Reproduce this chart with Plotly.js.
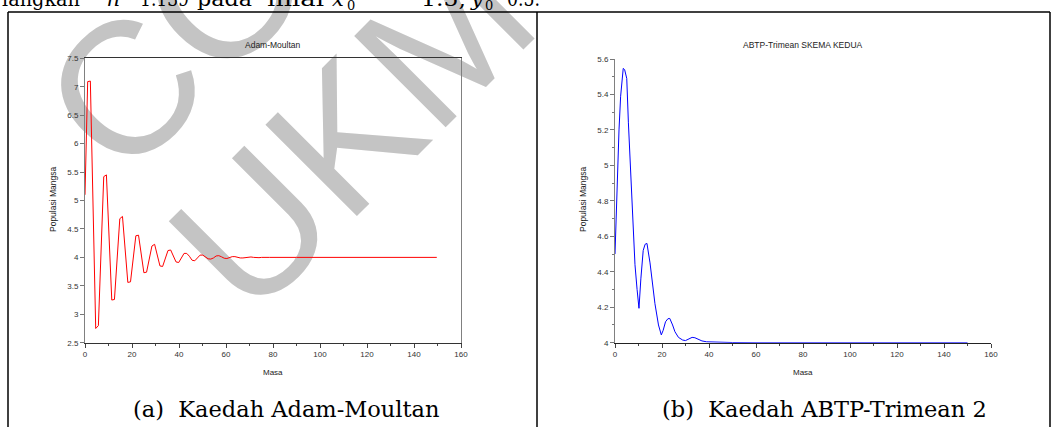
<!DOCTYPE html>
<html>
<head>
<meta charset="utf-8">
<script src="https://cdn.plot.ly/plotly-3.0.1.min.js"></script>
<style>
  html, body { margin: 0; padding: 0; background: #ffffff; width: 1057px; height: 427px; overflow: hidden; }
  #wm { position: absolute; left: 0; top: 0; z-index: 0; }
  #toptext { position: absolute; left: 0; top: 0; z-index: 1; }
  #plot { position: absolute; left: 0; top: 0; width: 1057px; height: 427px; z-index: 2; }
</style>
</head>
<body>
<svg id="wm" width="1057" height="427" xmlns="http://www.w3.org/2000/svg">
  <g font-family="Liberation Sans, Arial, sans-serif" font-size="188" fill="#c4c4c4">
    <text x="123" y="184" transform="rotate(-45 123 184)">COPY</text>
    <text x="250" y="323" transform="rotate(-45 250 323)">UKM</text>
  </g>
</svg>
<svg id="toptext" width="1057" height="427" xmlns="http://www.w3.org/2000/svg">
  <g font-family="DejaVu Serif, serif" font-size="21" fill="#000">
    <text x="2" y="6" textLength="78" lengthAdjust="spacingAndGlyphs">langkah</text>
    <text x="107" y="6" font-style="italic">h</text>
    <text x="121" y="1" font-size="15">=</text>
    <text x="140" y="6" textLength="49" lengthAdjust="spacingAndGlyphs">1.139</text>
    <text x="197" y="6" textLength="55" lengthAdjust="spacingAndGlyphs">pada</text>
    <text x="267" y="6" textLength="57" lengthAdjust="spacingAndGlyphs">nilai</text>
    <text x="332" y="6" font-style="italic">x</text>
    <text x="347" y="10" font-size="13">0</text>
    <text x="390" y="1" font-size="15">=</text>
    <text x="421" y="6" textLength="45" lengthAdjust="spacingAndGlyphs">1.5,</text>
    <text x="471" y="6" font-style="italic">y</text>
    <text x="485" y="10" font-size="13">0</text>
    <text x="494" y="1" font-size="12">=</text>
    <text x="507" y="6" textLength="33" lengthAdjust="spacingAndGlyphs">0.5.</text>
  </g>
</svg>
<div id="plot"></div>
<script>
// ---- data ----
const masaAdam = [0, 1.139, 2.278, 3.417, 4.556, 5.695, 6.834, 7.973, 9.112, 10.25,
  11.39, 12.53, 13.67, 14.81, 15.95, 17.09, 18.22, 19.36, 20.5, 21.64,
  22.78, 23.92, 25.06, 26.2, 27.34, 28.48, 29.62, 30.75, 31.89, 33.03,
  34.17, 35.31, 36.45, 37.59, 38.73, 39.87, 41.01, 42.15, 43.29, 44.42,
  45.56, 46.7, 47.84, 48.98, 50.12, 51.26, 52.4, 53.54, 54.67, 55.81,
  56.95, 58.09, 59.23, 60.37, 61.51, 62.65, 63.79, 64.93, 66.07, 67.2,
  68.34, 69.48, 70.62, 71.76, 72.9, 74.04, 75.18, 76.32, 77.45, 78.59,
  90, 110, 130, 149.7];
const mangsaAdam = [5.1, 7.09, 7.1, 5.0, 2.75, 2.8, 3.95, 5.42, 5.45, 4.35,
  3.25, 3.26, 4.0, 4.68, 4.72, 4.15, 3.56, 3.57, 3.95, 4.38,
  4.39, 4.05, 3.73, 3.74, 3.95, 4.2, 4.23, 4.05, 3.85, 3.84,
  3.97, 4.12, 4.13, 4.03, 3.92, 3.91, 3.99, 4.07, 4.07, 4.02,
  3.95, 3.94, 3.99, 4.04, 4.04, 4.01, 3.975, 3.97, 3.99, 4.025,
  4.03, 4.01, 3.985, 3.98, 3.995, 4.013, 4.013, 4.0, 3.99, 3.99,
  4.0, 4.007, 4.007, 4.0, 3.995, 3.995, 4.0, 4.004, 4.004, 4.0,
  4.0, 4.0, 4.0, 4.0];

const masaTrimean = [0, 1.0, 1.7, 2.4, 3.0, 3.5, 4.1, 5.0, 5.7, 6.7,
  7.5, 8.5, 9.4, 10.2, 11.0, 12.0, 12.8, 13.6, 14.9, 16.0,
  17.0, 18.5, 19.7, 20.5, 21.5, 22.5, 23.3, 24.5, 25.5, 27.0,
  28.8, 30.0, 31.5, 32.8, 34.0, 35.5, 37.0, 39.0, 42.0, 46.0,
  50.0, 60.0, 80.0, 100.0, 120.0, 150.0];
const mangsaTrimean = [4.5, 4.99, 5.2, 5.39, 5.5, 5.547, 5.54, 5.49, 5.24, 4.96,
  4.70, 4.44, 4.30, 4.194, 4.36, 4.52, 4.555, 4.56, 4.45, 4.33,
  4.22, 4.1, 4.044, 4.07, 4.118, 4.135, 4.137, 4.1, 4.062, 4.03,
  4.015, 4.012, 4.022, 4.03, 4.028, 4.02, 4.01, 4.005, 4.003, 4.002,
  4.001, 4.0, 4.0, 4.0, 4.0, 4.0];

const xTickVals = [0, 20, 40, 60, 80, 100, 120, 140, 160];
const xTickText = ['0', '20', '40', '60', '80', '100', '120', '140', '160'];
const yTickValsAdam = [2.5, 3, 3.5, 4, 4.5, 5, 5.5, 6, 6.5, 7, 7.5];
const yTickTextAdam = ['2.5', '3', '3.5', '4', '4.5', '5', '5.5', '6', '6.5', '7', '7.5'];
const yTickValsTrimean = [4, 4.2, 4.4, 4.6, 4.8, 5, 5.2, 5.4, 5.6];
const yTickTextTrimean = ['4', '4.2', '4.4', '4.6', '4.8', '5', '5.2', '5.4', '5.6'];

const chartTitles = ['Adam-Moultan', 'ABTP-Trimean SKEMA KEDUA'];
const xTitle = 'Masa';
const yTitle = 'Populasi Mangsa';
const captions = ['(a)\u00a0\u00a0Kaedah Adam-Moultan', '(b)\u00a0\u00a0Kaedah ABTP-Trimean 2'];

// ---- layout helpers (pixel -> paper) ----
const W = 1057, H = 427;
const px = v => v / W;
const py = v => 1 - v / H;

const sans = 'Liberation Sans, Arial, sans-serif';
const tickFont = { family: sans, size: 8, color: '#333' };

const traces = [
  { x: masaAdam, y: mangsaAdam, xaxis: 'x', yaxis: 'y', type: 'scatter', mode: 'lines',
    line: { color: '#ff0000', width: 1 }, hoverinfo: 'skip' },
  { x: masaTrimean, y: mangsaTrimean, xaxis: 'x2', yaxis: 'y2', type: 'scatter', mode: 'lines',
    line: { color: '#0000ff', width: 1 }, hoverinfo: 'skip' }
];

function xAxis(domain, anchor, mirror, lineColor) {
  return {
    domain: domain, anchor: anchor, range: [0, 160], autorange: false,
    showgrid: false, zeroline: false, showline: true, linecolor: lineColor, linewidth: 1,
    mirror: mirror, layer: 'below traces',
    tickmode: 'array', tickvals: xTickVals, ticktext: xTickText,
    ticks: 'outside', ticklen: 4, tickcolor: '#444', tickwidth: 1, tickfont: tickFont,
    minor: { ticks: 'outside', ticklen: 2, tickmode: 'linear', tick0: 0, dtick: 10, tickcolor: '#444', showgrid: false },
    fixedrange: true
  };
}

const layout = {
  width: W, height: H,
  margin: { l: 0, r: 0, t: 0, b: 0, pad: 0 },
  paper_bgcolor: 'rgba(0,0,0,0)', plot_bgcolor: 'rgba(0,0,0,0)',
  showlegend: false,
  xaxis: xAxis([px(85), px(461)], 'y', true, '#333'),
  yaxis: {
    domain: [py(342.7), py(58.3)], anchor: 'x', range: [2.5, 7.5], autorange: false,
    showgrid: false, zeroline: false, showline: true, linecolor: '#808080', linewidth: 1,
    mirror: true, layer: 'below traces',
    tickmode: 'array', tickvals: yTickValsAdam, ticktext: yTickTextAdam,
    ticks: 'outside', ticklen: 4, tickcolor: '#777', tickwidth: 1, tickfont: tickFont,
    fixedrange: true
  },
  xaxis2: xAxis([px(615), px(991)], 'y2', false, '#222'),
  yaxis2: {
    domain: [py(342.7), py(59)], anchor: 'x2', range: [4, 5.6], autorange: false,
    showgrid: false, zeroline: false, showline: true, linecolor: '#808080', linewidth: 1,
    layer: 'below traces',
    tickmode: 'array', tickvals: yTickValsTrimean, ticktext: yTickTextTrimean,
    ticks: 'outside', ticklen: 4, tickcolor: '#777', tickwidth: 1, tickfont: tickFont,
    minor: { ticks: 'outside', ticklen: 2, tickmode: 'linear', tick0: 4, dtick: 0.1, tickcolor: '#777', showgrid: false },
    fixedrange: true
  },
  annotations: [
    { text: chartTitles[0], x: px(273), y: py(45), xref: 'paper', yref: 'paper', showarrow: false,
      xanchor: 'center', yanchor: 'middle', font: { family: sans, size: 8.5, color: '#222' } },
    { text: chartTitles[1], x: px(803), y: py(45), xref: 'paper', yref: 'paper', showarrow: false,
      xanchor: 'center', yanchor: 'middle', font: { family: sans, size: 8.5, color: '#222' } },
    { text: xTitle, x: px(273), y: py(372), xref: 'paper', yref: 'paper', showarrow: false,
      xanchor: 'center', yanchor: 'middle', font: { family: sans, size: 8, color: '#222' } },
    { text: xTitle, x: px(803), y: py(372), xref: 'paper', yref: 'paper', showarrow: false,
      xanchor: 'center', yanchor: 'middle', font: { family: sans, size: 8, color: '#222' } },
    { text: yTitle, x: px(53), y: py(200), xref: 'paper', yref: 'paper', showarrow: false, textangle: -90,
      xanchor: 'center', yanchor: 'middle', font: { family: sans, size: 8.5, color: '#222' } },
    { text: yTitle, x: px(583), y: py(200), xref: 'paper', yref: 'paper', showarrow: false, textangle: -90,
      xanchor: 'center', yanchor: 'middle', font: { family: sans, size: 8.5, color: '#222' } },
    { text: captions[0], x: px(286.5), y: py(409), xref: 'paper', yref: 'paper', showarrow: false,
      xanchor: 'center', yanchor: 'middle', font: { family: 'DejaVu Serif, serif', size: 22.5, color: '#000' } },
    { text: captions[1], x: px(824), y: py(409), xref: 'paper', yref: 'paper', showarrow: false,
      xanchor: 'center', yanchor: 'middle', font: { family: 'DejaVu Serif, serif', size: 22.5, color: '#000' } }
  ],
  shapes: [
    { type: 'line', xref: 'paper', yref: 'paper', x0: px(8), x1: px(1050), y0: py(12), y1: py(12), line: { color: '#000', width: 1.5 } },
    { type: 'line', xref: 'paper', yref: 'paper', x0: px(8), x1: px(8), y0: py(12), y1: py(427), line: { color: '#000', width: 1.5 } },
    { type: 'line', xref: 'paper', yref: 'paper', x0: px(537), x1: px(537), y0: py(12), y1: py(427), line: { color: '#000', width: 1.5 } },
    { type: 'line', xref: 'paper', yref: 'paper', x0: px(1050), x1: px(1050), y0: py(12), y1: py(427), line: { color: '#000', width: 1.5 } }
  ]
};

Plotly.newPlot('plot', traces, layout, { staticPlot: true, displayModeBar: false });
</script>
</body>
</html>
